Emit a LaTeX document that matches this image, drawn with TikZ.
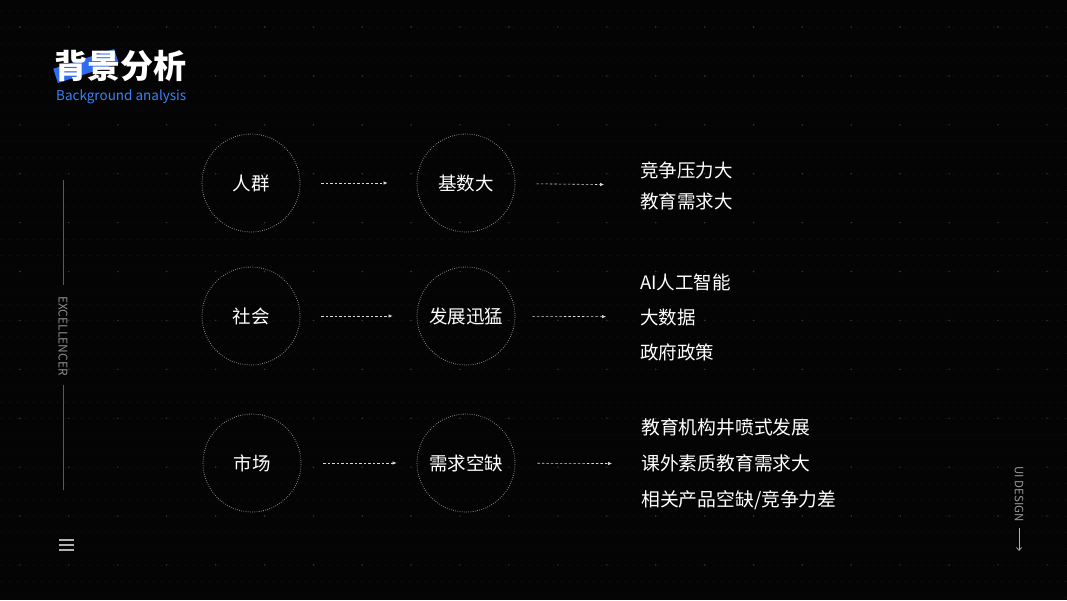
\documentclass[tikz,border=0pt]{standalone}
\usepackage{fontspec}
\setmainfont{Noto Sans CJK SC}
\usetikzlibrary{arrows.meta}
\definecolor{bgblack}{HTML}{040404}
\definecolor{dotdim}{HTML}{202020}
\definecolor{dotlit}{HTML}{3A3A3A}
\definecolor{ringgray}{HTML}{8C8C8C}
\definecolor{sidegray}{HTML}{5A5A5A}
\definecolor{titleblue}{HTML}{2E6BEF}
\definecolor{subblue}{HTML}{3A82F7}
\tikzset{
  ring/.style={circle,draw=ringgray,line width=0.8pt,dash pattern=on 0.8pt off 1.4pt,
    minimum size=98pt,inner sep=0pt,text=white,font=\fontsize{18.5}{20}\selectfont},
  link/.style={-{Latex[length=4pt,width=3.5pt]},white!85!black,line width=0.6pt,
    dash pattern=on 2.5pt off 2pt},
  points/.style={anchor=west,align=left,inner sep=0pt,text=white}
}

\begin{document}
\begin{tikzpicture}[x=1pt,y=-1pt,>=Latex]
    \fill[bgblack] (0,0) rectangle (1067,600);
    \useasboundingbox (0,0) rectangle (1067,600);
    \foreach \i in {0,...,133}
      \foreach \j in {0,...,36}
        \fill[dotdim] (\i*8+2,\j*16.3+11) circle (0.55);
    \foreach \i in {0,...,22}
      \foreach \j in {0,...,12}
        \fill[dotlit] (\i*48.9+20,\j*48.9+27) circle (0.8);
    % title
    \fill[titleblue,rotate around={18:(86,66)}] (54,58.5) rectangle (118,73.5);
    \node[anchor=west,inner sep=0pt,text=white,font=\fontsize{33}{36}\selectfont\bfseries] (ttl) at (54,66) {背景分析};
    \node[anchor=west,inner sep=0pt,text=subblue,font=\fontsize{13.5}{15}\selectfont] (sub) at (56,97) {Background analysis};
    % rows
    \node[ring] (crowd) at (251,183) {人群};
    \node[ring] (base) at (466,183) {基数大};
    \node[points,font=\fontsize{18.5}{31}\selectfont] (need) at (640,185.5) {竞争压力大\\教育需求大};
    \node[ring] (society) at (251,316) {社会};
    \node[ring] (growth) at (466,316) {发展迅猛};
    \node[points,font=\fontsize{18.5}{35}\selectfont] (tech) at (640,317) {AI人工智能\\大数据\\政府政策};
    \node[ring] (market) at (252,463) {市场};
    \node[ring] (gap) at (466,463) {需求空缺};
    \node[points,font=\fontsize{18.8}{36}\selectfont] (edu) at (641,464) {教育机构井喷式发展\\课外素质教育需求大\\相关产品空缺/竞争力差};
    \draw[link,shorten <=21pt,shorten >=29pt] (crowd) -- (base);
    \draw[link,shorten <=21pt,shorten >=36pt] (base) -- (need);
    \draw[link,shorten <=21pt,shorten >=24pt] (society) -- (growth);
    \draw[link,shorten <=17pt,shorten >=34pt] (growth) -- (tech);
    \draw[link,shorten <=22pt,shorten >=20pt] (market) -- (gap);
    \draw[link,shorten <=22pt,shorten >=29pt] (gap) -- (edu);
    % side marks
    \draw[sidegray,line width=0.8pt] (63,180) -- (63,285);
    \node[rotate=-90,inner sep=0pt,text=white!55!black,font=\fontsize{12}{14}\selectfont] (exc) at (63,336) {EXCELLENCER};
    \draw[sidegray,line width=0.8pt] (63,385) -- (63,490);
    \draw[white!70!black,line width=1.6pt] (59,540) -- (74,540) (59,545) -- (74,545) (59,550) -- (74,550);
    \node[rotate=-90,inner sep=0pt,text=white!60!black,font=\fontsize{11.5}{13}\selectfont] (ui) at (1019,494) {UI DESIGN};
    \coordinate (uiend) at (1019,551);
    \draw[white!70!black,line width=0.7pt,-{Straight Barb[length=3pt,width=5pt]},shorten <=6pt] (ui.east) -- (uiend);
  \end{tikzpicture}
\end{document}
